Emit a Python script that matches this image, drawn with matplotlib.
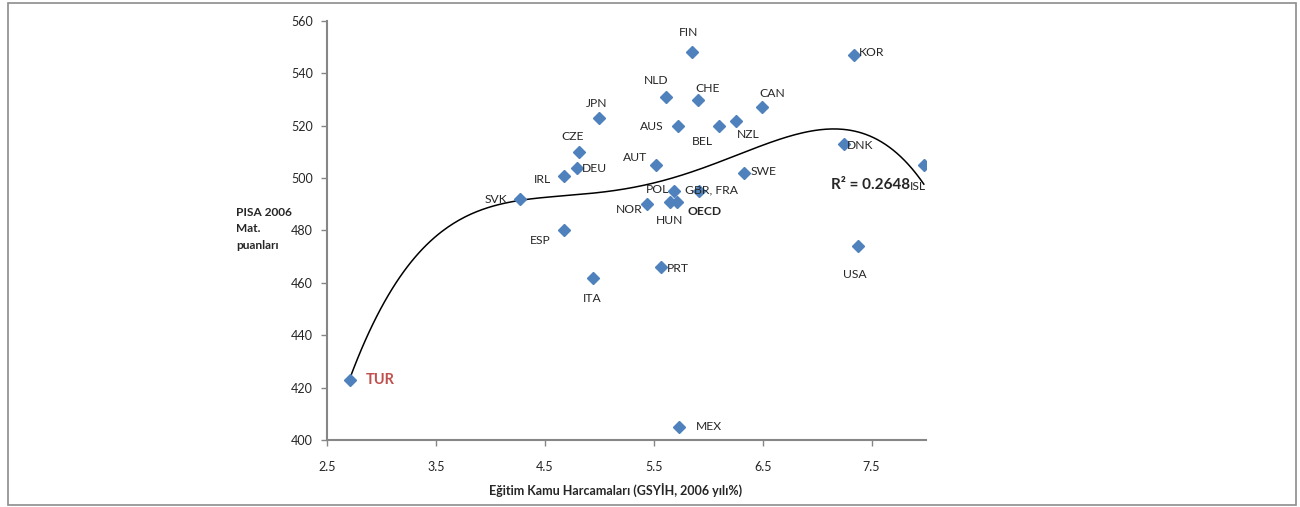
import numpy as np
import matplotlib
matplotlib.use("Agg")
import matplotlib.pyplot as plt
from matplotlib.patches import Rectangle

plt.rcParams['font.family'] = ['Lato', 'DejaVu Sans']

# Public education spending (% of GDP, 2006) and PISA 2006 maths scores
countries = ["TUR", "MEX", "ITA", "ESP", "SVK", "IRL", "DEU", "CZE", "JPN",
             "AUT", "NOR", "POL", "HUN", "OECD", "GBR, FRA", "PRT", "AUS",
             "NLD", "FIN", "CHE", "BEL", "NZL", "CAN", "SWE", "DNK", "KOR",
             "USA", "ISL"]
spending = [2.71, 5.73, 4.94, 4.68, 4.27, 4.68, 4.80, 4.81, 5.00,
            5.52, 5.44, 5.69, 5.65, 5.71, 5.92, 5.57, 5.72,
            5.61, 5.85, 5.91, 6.10, 6.26, 6.49, 6.33, 7.25, 7.34,
            7.38, 7.98]
pisa_math = [423, 405, 462, 480, 492, 501, 504, 510, 523,
             505, 490, 495, 491, 491, 495, 466, 520,
             531, 548, 530, 520, 522, 527, 502, 513, 547,
             474, 505]

# label offsets in pixels (dx, dy) and horizontal alignment
label_pos = {
    "TUR": (16, 0, "left"), "MEX": (17, 0, "left"), "ITA": (0, -21, "center"),
    "ESP": (-24, -10, "center"), "SVK": (-24, 0, "center"),
    "IRL": (-22, -4, "center"), "DEU": (4, -1, "left"),
    "CZE": (-6, 15, "center"), "JPN": (-3, 14, "center"),
    "AUT": (-21, 8, "center"), "NOR": (-18, -5, "center"),
    "POL": (-17, 2, "center"), "HUN": (-1, -19, "center"),
    "OECD": (11, -10, "left"), "GBR, FRA": (-14, 1, "left"),
    "PRT": (6, -1, "left"), "AUS": (-26, -1, "center"),
    "NLD": (-10, 16, "center"), "FIN": (-3, 20, "center"),
    "CHE": (9, 11, "center"), "BEL": (-17, -16, "center"),
    "NZL": (12, -14, "center"), "CAN": (11, 14, "center"),
    "SWE": (7, 1, "left"), "DNK": (3, -1, "left"), "KOR": (5, 3, "left"),
    "USA": (-4, -28, "center"), "ISL": (-6, -21, "center"),
}

r2_text = "R² = 0.2648"
x_ticks = [2.5, 3.5, 4.5, 5.5, 6.5, 7.5]
y_ticks = list(range(400, 561, 20))

W, H = 1300, 507
fig = plt.figure(figsize=(W / 100, H / 100), dpi=100)
ax = fig.add_axes([327 / W, (H - 440) / H, (926 - 327) / W, (440 - 21) / H])

x = np.array(spending)
y = np.array(pisa_math)

# 4th order polynomial trend line
coef = np.polyfit(x, y, 4)
xs = np.linspace(x.min(), x.max(), 300)
ax.plot(xs, np.polyval(coef, xs), color="black", lw=1.1, zorder=2)

ax.plot(x, y, "D", ms=6.6, color="#4F81BD", mec="#4F81BD", zorder=3)

for c, xi, yi in zip(countries, spending, pisa_math):
    dx, dy, ha = label_pos[c]
    kw = dict(fontsize=8.7, color="#262626")
    if c == "OECD":
        kw.update(fontweight="bold")
    if c == "TUR":
        kw.update(fontweight="bold", color="#C0504D", fontsize=10.5)
    ax.annotate(c, (xi, yi), xytext=(dx, dy), textcoords="offset pixels",
                ha=ha, va="center", zorder=4, **kw)

ax.annotate(r2_text, (7.98, 497.5), xytext=(-53, 0), textcoords="offset pixels",
            ha="center", va="center", fontsize=11, fontweight="bold",
            color="#262626")

ax.set_xlim(2.5, 8.0)
ax.set_ylim(400, 560)
ax.set_xticks(x_ticks)
ax.set_yticks(y_ticks)
ax.set_xticklabels([str(t) for t in x_ticks])
for s in ("top", "right"):
    ax.spines[s].set_visible(False)
for s in ("left", "bottom"):
    ax.spines[s].set_color("#868686")
    ax.spines[s].set_linewidth(1.5)
ax.tick_params(axis="both", direction="out", length=4, width=1,
               color="#868686", labelsize=9, labelcolor="#262626")
ax.tick_params(axis="x", pad=11)
ax.tick_params(axis="y", pad=6)

fig.text(236 / W, 1 - 229 / H, "PISA 2006\nMat.\npuanları", ha="left",
         va="center", fontsize=8.6, fontweight="bold", color="#262626",
         linespacing=1.6)
fig.text(616 / W, 1 - 490 / H, "Eğitim Kamu Harcamaları (GSYİH, 2006 yılı%)",
         ha="center", va="center", fontsize=9, fontweight="bold",
         color="#262626")

# outer chart frame
fig.patches.append(Rectangle((8 / W, 2 / H), (1296 - 8) / W, (504 - 2) / H,
                             transform=fig.transFigure, fill=False,
                             edgecolor="#8c8c8c", lw=1.2))

fig.savefig("out.png", dpi=100)
